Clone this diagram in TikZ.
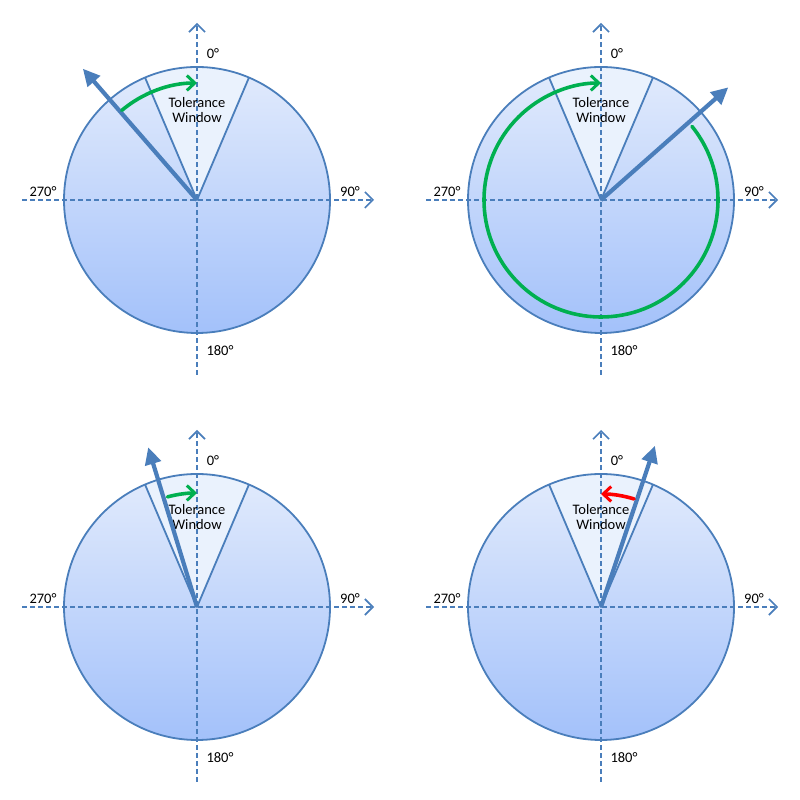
\documentclass[tikz,border=0pt]{standalone}
\usepackage{fontspec}
\setmainfont{Carlito}
\usetikzlibrary{arrows.meta}
\definecolor{dialline}{RGB}{74,126,187}
\definecolor{dialtop}{RGB}{226,235,252}
\definecolor{dialbot}{RGB}{163,193,250}
\definecolor{winfill}{RGB}{234,242,253}
\definecolor{okgreen}{RGB}{0,176,80}
\definecolor{badred}{RGB}{255,0,0}
\tikzset{
  axisline/.style={draw=dialline, line width=1.6pt, dash pattern=on 5pt off 3pt,
    -{Straight Barb[length=8pt,width=16pt,line width=1.6pt]}},
  rimline/.style={draw=dialline, line width=1.8pt, line join=round},
  pointer/.style={draw=dialline, line width=4.2pt, -{Triangle[length=17pt,width=16pt]}},
  goarc/.style={draw=okgreen, line width=3.6pt, line cap=round,
    -{Straight Barb[length=8pt,width=15pt,line width=3pt]}},
  badarc/.style={draw=badred, line width=3.6pt, line cap=round,
    -{Straight Barb[length=8pt,width=15pt,line width=3pt]}},
  lbl/.style={inner sep=0pt, font=\fontsize{14.5}{15}\selectfont, text=black},
}
\newcommand\dialpanel[3]{%
  \begin{scope}[shift={(#2,#3)}]
    \coordinate (#1c) at (0,0);
    \shade[top color=dialtop, bottom color=dialbot] (#1c) circle (133pt);
    \fill[winfill] (#1c) -- (67:133) arc[start angle=67,end angle=113,radius=133pt] -- cycle;
    \draw[rimline] (#1c) circle (133pt);
    \coordinate (#1wr) at (67:133);
    \coordinate (#1wl) at (113:133);
    \draw[rimline] (#1wr) -- (#1c) -- (#1wl);
    \coordinate (#1l) at (-175,0);
    \coordinate (#1r) at (177,0);
    \coordinate (#1b) at (0,-175);
    \coordinate (#1t) at (0,177);
    \draw[axisline] (#1l) -- (#1r);
    \draw[axisline] (#1b) -- (#1t);
    \node[lbl] (#1n0) at (16,146) {0°};
    \node[lbl] (#1n90) at (153,8) {90°};
    \node[lbl] (#1n270) at (-154,8) {270°};
    \node[lbl] (#1n180) at (23,-151) {180°};
    \node[lbl, align=center] (#1tw) at (0,90) {Tolerance\\Window};
  \end{scope}}
\begin{document}
\begin{tikzpicture}[x=1pt,y=1pt]
  \useasboundingbox (0,0) rectangle (800,800);
  % top left
  \dialpanel{tl}{197}{600}
  \begin{scope}[shift={(197,600)}]
    \coordinate (tlp) at (131:174);
    \coordinate (tla) at (130:117);
    \draw[pointer] (tlc) -- (tlp);
    \draw[goarc] (tla) arc[start angle=130,end angle=90,radius=117pt];
  \end{scope}
  % top right
  \dialpanel{tr}{601}{600}
  \begin{scope}[shift={(601,600)}]
    \coordinate (trp) at (41.5:170);
    \coordinate (tra) at (39:117);
    \draw[goarc] (tra) arc[start angle=39,end angle=-270,radius=117pt];
    \draw[pointer] (trc) -- (trp);
  \end{scope}
  % bottom left
  \dialpanel{bl}{197}{193}
  \begin{scope}[shift={(197,193)}]
    \coordinate (blp) at (107:167);
    \coordinate (bla) at (105:114);
    \draw[pointer] (blc) -- (blp);
    \draw[goarc] (bla) arc[start angle=105,end angle=90,radius=114pt];
  \end{scope}
  % bottom right
  \dialpanel{br}{601}{193}
  \begin{scope}[shift={(601,193)}]
    \coordinate (brp) at (71.5:170);
    \coordinate (bra) at (73:113);
    \draw[pointer] (brc) -- (brp);
    \draw[badarc] (bra) arc[start angle=73,end angle=90,radius=113pt];
  \end{scope}
\end{tikzpicture}
\end{document}
